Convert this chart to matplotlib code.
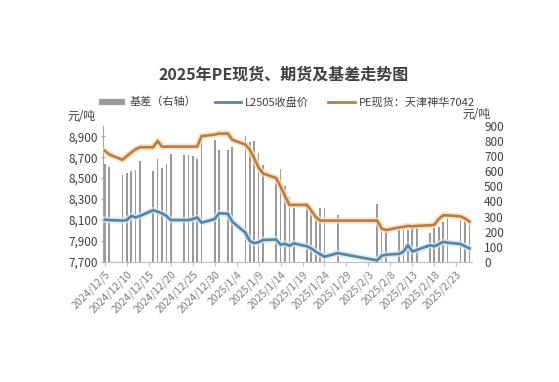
import matplotlib
matplotlib.use("Agg")
import matplotlib.pyplot as plt
import matplotlib.patheffects as pe
from matplotlib.lines import Line2D
import pandas as pd

plt.rcParams['font.family'] = ['Noto Sans CJK SC', 'DejaVu Sans']

dates = ["2024-12-05", "2024-12-06", "2024-12-09", "2024-12-10", "2024-12-11", "2024-12-12", "2024-12-13",
         "2024-12-16", "2024-12-17", "2024-12-18", "2024-12-19", "2024-12-20",
         "2024-12-23", "2024-12-24", "2024-12-25", "2024-12-26", "2024-12-27",
         "2024-12-30", "2024-12-31", "2025-01-02", "2025-01-03",
         "2025-01-06", "2025-01-07", "2025-01-08", "2025-01-09", "2025-01-10",
         "2025-01-13", "2025-01-14", "2025-01-15", "2025-01-16", "2025-01-17",
         "2025-01-20", "2025-01-21", "2025-01-22", "2025-01-23", "2025-01-24",
         "2025-01-27", "2025-02-05", "2025-02-06", "2025-02-07",
         "2025-02-10", "2025-02-11", "2025-02-12", "2025-02-13", "2025-02-14",
         "2025-02-17", "2025-02-18", "2025-02-19", "2025-02-20", "2025-02-21",
         "2025-02-24", "2025-02-25", "2025-02-26"]

spot = [8760, 8725, 8675, 8710, 8745, 8775, 8795,
        8795, 8855, 8800, 8800, 8800,
        8800, 8800, 8800, 8800, 8900,
        8915, 8925, 8925, 8865,
        8820, 8770, 8690, 8600, 8545,
        8500, 8420, 8330, 8245, 8245,
        8245, 8190, 8130, 8095, 8095,
        8095, 8095, 8020, 8005,
        8030, 8035, 8045, 8040, 8045,
        8050, 8055, 8110, 8145, 8145,
        8135, 8115, 8085]

futures = [8105, 8100, 8095, 8100, 8140, 8125, 8140,
           8195, 8180, 8165, 8140, 8100,
           8100, 8100, 8110, 8125, 8075,
           8110, 8165, 8160, 8085,
           7980, 7900, 7880, 7890, 7910,
           7915, 7865, 7875, 7855, 7878,
           7850, 7830, 7800, 7775, 7750,
           7785, 7715, 7760, 7770,
           7778, 7800, 7862, 7800, 7815,
           7860, 7850, 7870, 7893, 7885,
           7872, 7850, 7830]

basis = [650, 628, 573, 590, 600, 610, 665,
         600, 677, 620, 650, 716,
         705, 705, 698, 677, 800,
         808, 738, 740, 756,
         830, 795, 798, 720, 640,
         530, 615, 500, 430, 360,
         390, 330, 300, 354, 354,
         310, 382, 266, 211,
         237, 215, 211, 226, 230,
         189, 226, 231, 266, 294,
         277, 271, 266]

tick_dates = ["2024-12-05", "2024-12-10", "2024-12-15", "2024-12-20", "2024-12-25", "2024-12-30",
              "2025-01-04", "2025-01-09", "2025-01-14", "2025-01-19", "2025-01-24", "2025-01-29",
              "2025-02-03", "2025-02-08", "2025-02-13", "2025-02-18", "2025-02-23"]
tick_labels = ["2024/12/5", "2024/12/10", "2024/12/15", "2024/12/20", "2024/12/25", "2024/12/30",
               "2025/1/4", "2025/1/9", "2025/1/14", "2025/1/19", "2025/1/24", "2025/1/29",
               "2025/2/3", "2025/2/8", "2025/2/13", "2025/2/18", "2025/2/23"]

left_ticks = [7700, 7900, 8100, 8300, 8500, 8700, 8900]
right_ticks = [0, 100, 200, 300, 400, 500, 600, 700, 800, 900]

title = "2025年PE现货、期货及基差走势图"
name_basis = "基差（右轴）"
name_fut = "L2505收盘价"
name_spot = "PE现货：天津神华7042"

c_spot = "#BE7B3C"
c_fut = "#5783A6"
c_bar = "#9A9A9A"

x = pd.to_datetime(dates)
xt = pd.to_datetime(tick_dates)

fig = plt.figure(figsize=(5.59, 3.82), dpi=100)
fig.patch.set_facecolor("white")
ax = fig.add_axes([0.1837, 0.314, 0.66, 0.357])
ax2 = ax.twinx()

ax2.bar(x, basis, width=0.38, color=c_bar, zorder=1)

ax.plot(x, spot, color=c_spot, lw=1.9, zorder=3,
        path_effects=[pe.Stroke(linewidth=4.5, foreground="#F6DDBF", alpha=0.8), pe.Normal()])
ax.plot(x, futures, color=c_fut, lw=1.9, zorder=3,
        path_effects=[pe.Stroke(linewidth=4.5, foreground="#D3E6F2", alpha=0.8), pe.Normal()])

ax.set_zorder(ax2.get_zorder() + 1)
ax.patch.set_visible(False)

xmin = pd.Timestamp("2024-12-04 12:00")
xmax = pd.Timestamp("2025-02-26 12:00")
ax.set_xlim(xmin, xmax)
ax.set_ylim(7700, 9000)
ax2.set_ylim(0, 900)

ax.set_yticks(left_ticks)
ax.set_yticklabels([f"{v:,}" for v in left_ticks])
ax2.set_yticks(right_ticks)
ax2.set_yticklabels([str(v) for v in right_ticks])

ax.set_xticks(xt)
ax.set_xticklabels(tick_labels, rotation=45, ha="right", rotation_mode="anchor")

for a in (ax, ax2):
    for s in ("top", "right", "left", "bottom"):
        a.spines[s].set_visible(False)
ax.spines["left"].set_visible(True)
ax.spines["bottom"].set_visible(True)
ax.spines["left"].set_color("#A6A6A6")
ax.spines["bottom"].set_color("#BFBFBF")

ax.tick_params(axis="y", labelsize=8.5, colors="#A6A6A6", labelcolor="#404040", length=3, direction="inout", pad=2)
ax.tick_params(axis="x", labelsize=7.5, colors="#BFBFBF", labelcolor="#7F7F7F", length=3, direction="out", pad=2)
ax2.tick_params(axis="y", labelsize=8.5, labelcolor="#404040", length=0, pad=9)

fig.text(0.507, 1 - 75 / 382, title, ha="center", va="center", fontsize=11.5, fontweight="bold", color="#404040")
fig.text(67 / 559, 1 - 117 / 382, "元/吨", ha="left", va="center", fontsize=8.5, color="#404040")
fig.text(462 / 559, 1 - 115 / 382, "元/吨", ha="left", va="center", fontsize=8.5, color="#404040")

handles = [Line2D([0], [0], color=c_bar, lw=4.5, solid_capstyle="butt"),
           Line2D([0], [0], color=c_fut, lw=2),
           Line2D([0], [0], color=c_spot, lw=2)]
fig.legend(handles, [name_basis, name_fut, name_spot], loc="center", ncol=3,
           bbox_to_anchor=(0.513, 1 - 102 / 382), frameon=False, fontsize=8,
           handlelength=2.4, handletextpad=0.35, columnspacing=1.7, labelcolor="#404040")

fig.savefig("out.png", dpi=100, facecolor="white")
